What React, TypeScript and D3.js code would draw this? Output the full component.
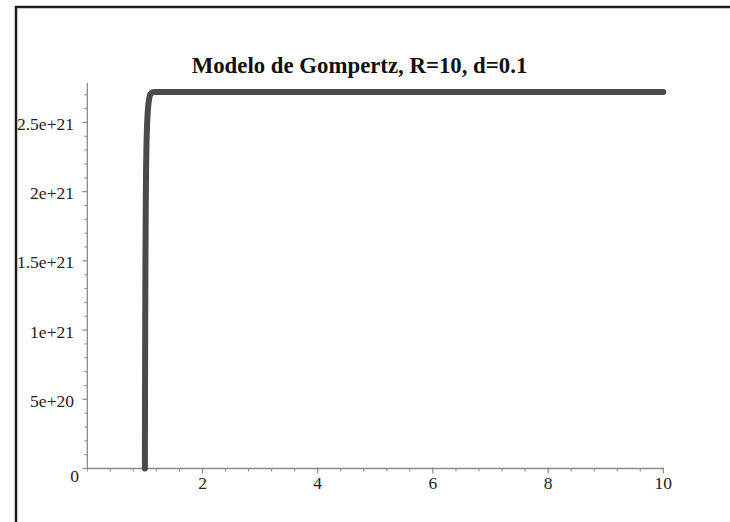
import React from "react";
import * as d3 from "d3";

const titleText = "Modelo de Gompertz, R=10, d=0.1";
const xValues = [1.0, 1.002, 1.005, 1.009, 1.014, 1.02, 1.028, 1.037, 1.048, 1.06, 1.075, 1.09, 1.11, 1.14, 1.18, 1.25, 2, 4, 6, 8, 10];
const yValues = [0, 0.5e21, 1.0e21, 1.45e21, 1.85e21, 2.15e21, 2.35e21, 2.48e21, 2.57e21, 2.63e21, 2.675e21, 2.70e21, 2.712e21, 2.718e21, 2.72e21, 2.72e21, 2.72e21, 2.72e21, 2.72e21, 2.72e21, 2.72e21];
const xTicks = [2, 4, 6, 8, 10];
const xTickLabels = ["2", "4", "6", "8", "10"];
const yTicks = [0, 5e20, 1e21, 1.5e21, 2e21, 2.5e21];
const yTickLabels = ["0", "5e+20", "1e+21", "1.5e+21", "2e+21", "2.5e+21"];

const W = 730;
const H = 522;

export default function App() {
  const x = d3.scaleLinear().domain([0, 10]).range([87.3, 663.3]);
  const y = d3.scaleLinear().domain([0, 2.785e21]).range([468.5, 83]);

  const data = xValues.map((v, i) => [v, yValues[i]] as [number, number]);
  const line = d3
    .line<[number, number]>()
    .x((d) => x(d[0]))
    .y((d) => y(d[1]));

  const xMinor = d3.range(0, 10.0001, 0.4).filter((v) => !xTicks.some((t) => Math.abs(t - v) < 1e-6));
  const yMinor = d3.range(0, 2.75e21, 1e20).filter((v) => !yTicks.some((t) => Math.abs(t - v) < 1e18));

  const axisColor = "#8a8a8a";
  const font = "'Liberation Serif', 'Times New Roman', serif";
  const fs = 17.5;

  return (
    <svg
      width={W}
      height={H}
      style={{ position: "absolute", left: 0, top: 0, background: "#fff" }}
    >
      <rect x={0} y={0} width={W} height={H} fill="#fff" />
      {/* frame */}
      <line x1={15} y1={7} x2={W} y2={7} stroke="#1c1c1c" strokeWidth={2.5} />
      <line x1={16} y1={6} x2={16} y2={H} stroke="#1c1c1c" strokeWidth={2.5} />

      {/* title */}
      <text
        x={359.5}
        y={72.5}
        textAnchor="middle"
        fontFamily={font}
        fontWeight="bold"
        fontSize={22.8}
        fill="#111"
      >
        {titleText}
      </text>

      {/* axes */}
      <line x1={x(0)} y1={y(0)} x2={x(10)} y2={y(0)} stroke={axisColor} strokeWidth={1.3} />
      <line x1={x(0)} y1={y(0)} x2={x(0)} y2={83} stroke={axisColor} strokeWidth={1.3} />

      {xTicks.map((t) => (
        <line key={"xt" + t} x1={x(t)} x2={x(t)} y1={y(0) - 1} y2={y(0) + 5} stroke={axisColor} strokeWidth={1.2} />
      ))}
      {xMinor.map((t) => (
        <line key={"xm" + t} x1={x(t)} x2={x(t)} y1={y(0)} y2={y(0) + 3} stroke={axisColor} strokeWidth={1} />
      ))}
      {yTicks.map((t) => (
        <line key={"yt" + t} x1={x(0) - 5} x2={x(0)} y1={y(t)} y2={y(t)} stroke={axisColor} strokeWidth={1.2} />
      ))}
      {yMinor.map((t) => (
        <line key={"ym" + t} x1={x(0) - 3} x2={x(0)} y1={y(t)} y2={y(t)} stroke={axisColor} strokeWidth={1} />
      ))}

      {xTicks.map((t, i) => (
        <text
          key={"xl" + t}
          x={x(t)}
          y={488.5}
          textAnchor="middle"
          fontFamily={font}
          fontSize={fs}
          fill="#222"
        >
          {xTickLabels[i]}
        </text>
      ))}
      {yTicks.map((t, i) =>
        t === 0 ? (
          <text key={"yl" + t} x={79} y={482} textAnchor="end" fontFamily={font} fontSize={fs} fill="#222">
            {yTickLabels[i]}
          </text>
        ) : (
          <text
            key={"yl" + t}
            x={74}
            y={y(t) + 7.5}
            textAnchor="end"
            fontFamily={font}
            fontSize={fs}
            fill="#222"
          >
            {yTickLabels[i]}
          </text>
        )
      )}

      {/* curve */}
      <path
        d={line(data) || ""}
        fill="none"
        stroke="#4a4a4a"
        strokeWidth={6}
        strokeLinejoin="round"
        strokeLinecap="round"
      />
    </svg>
  );
}
